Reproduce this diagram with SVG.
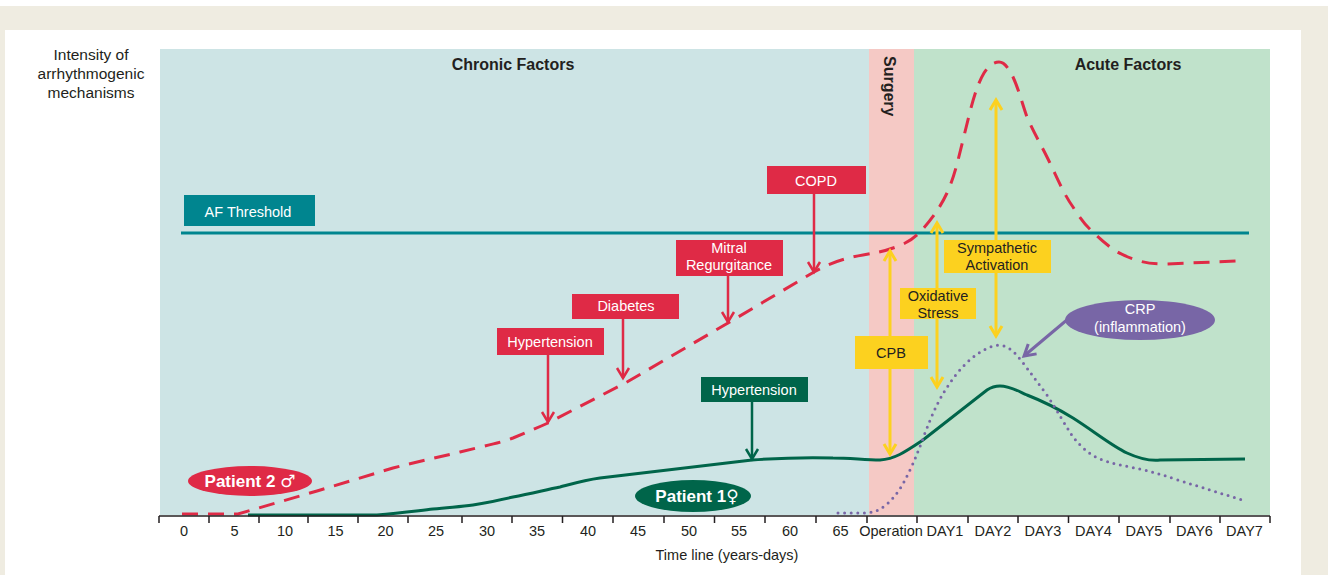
<svg xmlns="http://www.w3.org/2000/svg" width="1328" height="575" viewBox="0 0 1328 575">
<defs>
<style>
.t{font-family:"Liberation Sans",Arial,Helvetica,sans-serif;font-size:14.5px;fill:#231f20}
.c{text-anchor:middle}
.w{fill:#ffffff}
.b{font-weight:bold}
.h{font-size:16px;font-weight:bold}
.sym{font-family:"DejaVu Sans",sans-serif;font-size:17px;font-weight:normal}
.red{fill:#df2a46}
.grn{fill:#00654a}
.yel{fill:#fcd11f}
.teal{fill:#00858f}
.pur{fill:#7866a6}
.ra{fill:none;stroke:#df2a46;stroke-width:2.5;marker-end:url(#mr)}
.ga{fill:none;stroke:#00654a;stroke-width:2.5;marker-end:url(#mg)}
.ya{fill:none;stroke:#fcd11f;stroke-width:3;marker-end:url(#my);marker-start:url(#my)}
.pa{fill:none;stroke:#7866a6;stroke-width:3;marker-end:url(#mp)}
.tick{stroke:#231f20;stroke-width:1.5}
</style>
<marker id="mr" markerUnits="userSpaceOnUse" markerWidth="24" markerHeight="24" refX="0" refY="0" orient="auto" overflow="visible"><path d="M-10,-6 L0,0 L-10,6" fill="none" stroke="#df2a46" stroke-width="2.5"/></marker>
<marker id="mg" markerUnits="userSpaceOnUse" markerWidth="24" markerHeight="24" refX="0" refY="0" orient="auto" overflow="visible"><path d="M-10,-6 L0,0 L-10,6" fill="none" stroke="#00654a" stroke-width="2.5"/></marker>
<marker id="my" markerUnits="userSpaceOnUse" markerWidth="24" markerHeight="24" refX="0" refY="0" orient="auto-start-reverse" overflow="visible"><path d="M-10,-6 L0,0 L-10,6" fill="none" stroke="#fcd11f" stroke-width="3"/></marker>
<marker id="mp" markerUnits="userSpaceOnUse" markerWidth="24" markerHeight="24" refX="0" refY="0" orient="auto" overflow="visible"><path d="M-11,-6.5 L0,0 L-11,6.5" fill="none" stroke="#7866a6" stroke-width="3"/></marker>
</defs>

<!-- background -->
<rect x="0" y="0" width="1328" height="575" fill="#ffffff"/>
<rect x="0" y="6" width="1328" height="569" fill="#efece1"/>
<rect x="5" y="30" width="1296" height="545" fill="#ffffff"/>

<!-- zones -->
<g id="zones">
<rect x="160" y="49" width="709" height="466" fill="#cde4e5"/>
<rect x="869" y="49" width="45" height="466" fill="#f5c9c5"/>
<rect x="914" y="49" width="356" height="466" fill="#c0e2cb"/>
<text class="t h c" x="513" y="70">Chronic Factors</text>
<text class="t h c" x="1128" y="70">Acute Factors</text>
<text class="t h" transform="translate(884,56) rotate(90)">Surgery</text>
</g>

<!-- y-axis label -->
<g id="ylabel">
<text class="t c" style="font-size:15.5px" x="91" y="60">Intensity of</text>
<text class="t c" style="font-size:15.5px" x="91" y="79">arrhythmogenic</text>
<text class="t c" style="font-size:15.5px" x="91" y="98">mechanisms</text>
</g>

<!-- AF threshold -->
<g id="threshold">
<line x1="181" y1="233" x2="1249" y2="233" stroke="#00858f" stroke-width="3"/>
<rect class="teal" x="184" y="195" width="131" height="31"/>
<text class="t w c" x="248" y="217">AF Threshold</text>
</g>

<!-- curves -->
<g id="curves">
<path id="patient2-curve" d="M182,514 L238,514 L317,491 L393,468 C420,461 440,457 460,452 C480,447 500,443 513,438 C525,433 537,428 548,423 L627,382 L728,323 L814,272 C830,263 845,258 863,255 C875,253 885,251 893,248 C905,244 912,240 918,234 C930,222 940,208 947,193 C955,175 958,160 963,140 C970,112 975,88 984,73 C989,65 994,62 999,62 C1004,62 1008,67 1013,77 C1019,90 1022,103 1027,117 C1033,131 1040,143 1047,157 C1056,175 1063,193 1073,207 C1080,218 1086,226 1093,232 C1100,239 1105,243 1110,247 C1118,253 1125,256 1133,259 C1145,263 1152,264 1165,264 L1237,261" fill="none" stroke="#df2a46" stroke-width="3" stroke-dasharray="16 10"/>
<path id="patient1-curve" d="M248,515 L377,515 C400,513 415,511 433,509 C450,507 460,507 473,505 C490,502 500,500 513,497 C530,494 545,490 560,487 C575,483 585,480 600,478 L752,460 C780,458 800,457 833,458 C850,458 865,460 880,460 C895,459 905,452 923,440 L987,390 C993,386 997,386 1000,386 C1010,386 1018,391 1027,395 C1045,402 1060,410 1073,418 C1095,432 1112,446 1127,453 C1140,459 1150,461 1160,460 L1245,459" fill="none" stroke="#00654a" stroke-width="3"/>
<path id="crp-curve" d="M838,513 L867,513 C875,512 880,510 887,504 C897,495 903,485 910,470 C916,457 920,447 925,433 C933,412 940,397 950,383 C960,368 975,352 993,346 C1005,343 1013,350 1020,359 C1030,372 1038,383 1047,395 C1058,412 1065,425 1073,437 C1082,448 1090,455 1100,459 C1110,463 1120,465 1130,467 C1150,471 1160,474 1175,479 C1200,487 1220,493 1242,500" fill="none" stroke="#7866a6" stroke-width="3" stroke-linecap="round" stroke-dasharray="0 6.6"/>
</g>

<!-- connectors -->
<g id="connectors">
<line class="ra" x1="814" y1="194" x2="814" y2="272"/>
<line class="ra" x1="728" y1="276" x2="728" y2="322"/>
<line class="ra" x1="623" y1="319" x2="623" y2="378"/>
<line class="ra" x1="548" y1="355" x2="548" y2="422"/>
<line class="ga" x1="752" y1="402" x2="752" y2="459"/>
<line class="ya" x1="890" y1="251" x2="890" y2="454"/>
<line class="ya" x1="937" y1="223" x2="937" y2="387"/>
<line class="ya" x1="996" y1="100" x2="996" y2="336"/>
<line class="pa" x1="1068" y1="319" x2="1024" y2="356"/>
</g>

<!-- nodes -->
<g id="copd">
<rect class="red" x="767" y="166" width="99" height="28"/>
<text class="t w c" x="816" y="186">COPD</text>
</g>
<g id="mitral">
<rect class="red" x="676" y="240" width="107" height="36"/>
<text class="t w c" x="729" y="253">Mitral</text>
<text class="t w c" x="729" y="270">Regurgitance</text>
</g>
<g id="diabetes">
<rect class="red" x="572" y="294" width="107" height="25"/>
<text class="t w c" x="626" y="311">Diabetes</text>
</g>
<g id="hypertension-2">
<rect class="red" x="497" y="328" width="107" height="27"/>
<text class="t w c" x="550" y="347">Hypertension</text>
</g>
<g id="hypertension-1">
<rect class="grn" x="701" y="377" width="107" height="25"/>
<text class="t w c" x="754" y="395">Hypertension</text>
</g>
<g id="cpb">
<rect class="yel" x="855" y="336" width="73" height="33"/>
<text class="t c" x="891" y="358">CPB</text>
</g>
<g id="oxidative">
<rect class="yel" x="900" y="288" width="76" height="31"/>
<text class="t c" x="938" y="301">Oxidative</text>
<text class="t c" x="938" y="318">Stress</text>
</g>
<g id="sympathetic">
<rect class="yel" x="944" y="240" width="107" height="33"/>
<text class="t c" x="997" y="253">Sympathetic</text>
<text class="t c" x="997" y="270">Activation</text>
</g>
<g id="crp">
<ellipse class="pur" cx="1140" cy="320" rx="75" ry="20"/>
<text class="t w c" x="1140" y="314">CRP</text>
<text class="t w c" x="1140" y="332">(inflammation)</text>
</g>
<g id="patient2">
<ellipse class="red" cx="250" cy="481" rx="62" ry="15"/>
<text class="t w c b" style="font-size:17px" x="250" y="487">Patient 2 <tspan class="sym">♂</tspan></text>
</g>
<g id="patient1">
<ellipse class="grn" cx="693" cy="496" rx="58" ry="16"/>
<text class="t w c b" style="font-size:17px" x="697" y="502">Patient 1<tspan class="sym">♀</tspan></text>
</g>

<!-- axis -->
<g id="axis">
<line class="tick" x1="159" y1="516" x2="1270" y2="516"/>
<path class="tick" fill="none" d="M159,516V523 M209,516V523 M259,516V523 M308,516V523 M358,516V523 M408,516V523 M462,516V523 M512,516V523 M562.5,516V523 M613,516V523 M664,516V523 M714.5,516V523 M765,516V523 M816,516V523 M867,516V523 M917,516V523 M968,516V523 M1018,516V523 M1068.5,516V523 M1119,516V523 M1170,516V523 M1220,516V523 M1270,516V523"/>
<text class="t c" x="184" y="536">0</text>
<text class="t c" x="234.5" y="536">5</text>
<text class="t c" x="285" y="536">10</text>
<text class="t c" x="335.5" y="536">15</text>
<text class="t c" x="385.5" y="536">20</text>
<text class="t c" x="436" y="536">25</text>
<text class="t c" x="487" y="536">30</text>
<text class="t c" x="537" y="536">35</text>
<text class="t c" x="588" y="536">40</text>
<text class="t c" x="638" y="536">45</text>
<text class="t c" x="689" y="536">50</text>
<text class="t c" x="739" y="536">55</text>
<text class="t c" x="790" y="536">60</text>
<text class="t c" x="840.5" y="536">65</text>
<text class="t c" x="891" y="536">Operation</text>
<text class="t c" x="945" y="536">DAY1</text>
<text class="t c" x="993" y="536">DAY2</text>
<text class="t c" x="1043" y="536">DAY3</text>
<text class="t c" x="1093.5" y="536">DAY4</text>
<text class="t c" x="1144" y="536">DAY5</text>
<text class="t c" x="1194.5" y="536">DAY6</text>
<text class="t c" x="1244.5" y="536">DAY7</text>
<text class="t c" x="727" y="560">Time line (years-days)</text>
</g>
</svg>
